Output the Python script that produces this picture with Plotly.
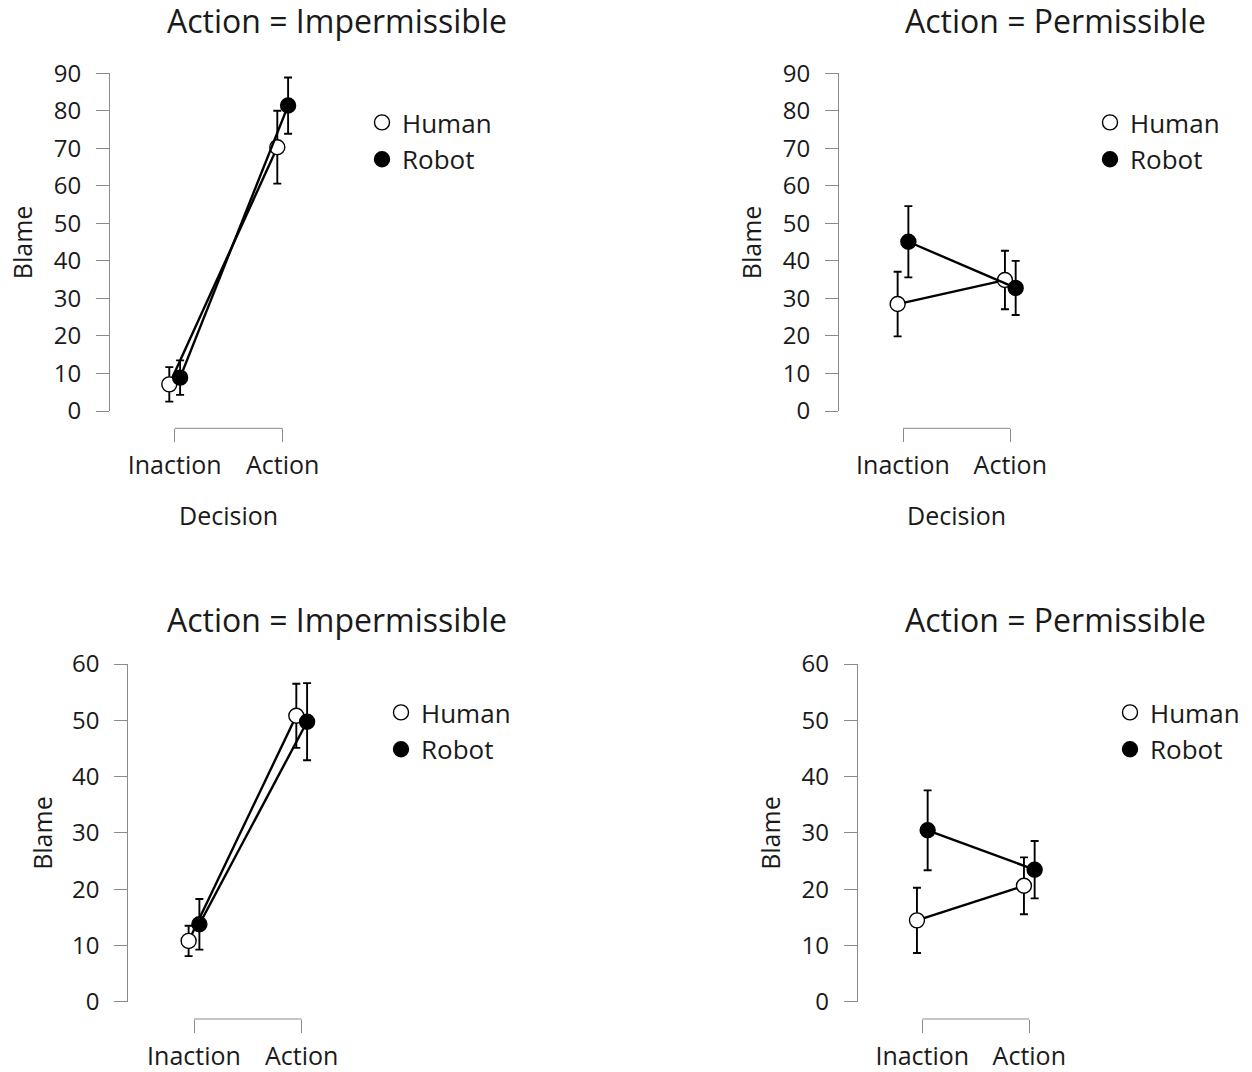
import plotly.graph_objects as go

W, H = 1252, 1072

decisions = ["Inaction", "Action"]
agents = ["Human", "Robot"]

# Panel values (Blame means and error half-widths)
tl_human = [7.1, 70.3]
tl_human_err = [4.6, 9.7]
tl_robot = [8.9, 81.4]
tl_robot_err = [4.6, 7.5]

tr_human = [28.5, 34.9]
tr_human_err = [8.6, 7.8]
tr_robot = [45.1, 32.8]
tr_robot_err = [9.5, 7.2]

bl_human = [10.8, 50.8]
bl_human_err = [2.7, 5.7]
bl_robot = [13.75, 49.75]
bl_robot_err = [4.5, 6.85]

br_human = [14.45, 20.6]
br_human_err = [5.8, 5.05]
br_robot = [30.45, 23.45]
br_robot_err = [7.1, 5.1]

titles = ["Action = Impermissible", "Action = Permissible",
          "Action = Impermissible", "Action = Permissible"]

FONT = "'Open Sans', 'Noto Sans', sans-serif"
TXT = "#1a1a1a"
AXC = "#8a8a8a"
DODGE = 0.05


def fx(p):
    return p / W


def fy(p):
    return 1 - p / H


panels = [
    dict(h=tl_human, he=tl_human_err, r=tl_robot, re=tl_robot_err, ymax=90,
         ax=110, t0=174.7, t1=282.7, ytop=73.3, ybot=411, bracket=428.3,
         tx=337, ty=20, lx=362, ly=99, bx=22, decision=True),
    dict(h=tr_human, he=tr_human_err, r=tr_robot, re=tr_robot_err, ymax=90,
         ax=839, t0=903, t1=1010.3, ytop=73.3, ybot=411, bracket=428.3,
         tx=1055, ty=20, lx=1090, ly=99, bx=751, decision=True),
    dict(h=bl_human, he=bl_human_err, r=bl_robot, re=bl_robot_err, ymax=60,
         ax=128.3, t0=194, t1=301.7, ytop=664, ybot=1001.7, bracket=1019,
         tx=337, ty=619, lx=381, ly=689, bx=42, decision=False),
    dict(h=br_human, he=br_human_err, r=br_robot, re=br_robot_err, ymax=60,
         ax=857.7, t0=922.3, t1=1029.3, ytop=664, ybot=1001.7, bracket=1019,
         tx=1055, ty=619, lx=1110, ly=689, bx=770, decision=False),
]

fig = go.Figure()
annotations = []
shapes = []
xpos = [0, 1]

for i, p in enumerate(panels):
    n = i + 1
    xs = "" if n == 1 else str(n)
    unit = p["t1"] - p["t0"]
    right = p["t1"] + 45
    xr = [(p["ax"] - p["t0"]) / unit, (right - p["t0"]) / unit]
    leg = "legend" if n == 1 else f"legend{n}"

    for name, vals, errs, fill, off in [
        ("Human", p["h"], p["he"], "white", -DODGE),
        ("Robot", p["r"], p["re"], "black", DODGE),
    ]:
        xv = [v + off for v in xpos]
        fig.add_trace(go.Scatter(
            x=xv, y=vals, mode="lines", showlegend=False, hoverinfo="skip",
            line=dict(color="black", width=2.4),
            xaxis="x" + xs, yaxis="y" + xs, cliponaxis=False,
        ))
        fig.add_trace(go.Scatter(
            x=xv, y=vals, name=name, mode="markers",
            marker=dict(size=15, color=fill, line=dict(color="black", width=1.4)),
            error_y=dict(type="data", array=errs, visible=True,
                         color="black", thickness=1.9, width=4),
            xaxis="x" + xs, yaxis="y" + xs, legend=leg,
            cliponaxis=False,
        ))

    fig.update_layout(**{
        "xaxis" + xs: dict(
            domain=[fx(p["ax"]), fx(right)], range=xr,
            anchor="free", position=fy(p["bracket"]),
            showline=False, showgrid=False, zeroline=False, automargin=False,
            tickvals=xpos, ticktext=decisions,
            ticks="outside", ticklen=13, tickwidth=1, tickcolor=AXC,
            tickfont=dict(family=FONT, size=25, color=TXT),
            ticklabelstandoff=2,
        ),
        "yaxis" + xs: dict(
            domain=[fy(p["ybot"]), fy(p["ytop"])], range=[0, p["ymax"]],
            anchor="x" + xs, automargin=False,
            showline=True, linecolor=AXC, linewidth=1,
            showgrid=False, zeroline=False,
            tickvals=list(range(0, p["ymax"] + 1, 10)),
            ticks="outside", ticklen=13, tickwidth=1, tickcolor=AXC,
            tickfont=dict(family=FONT, size=24, color=TXT),
            ticklabelstandoff=10,
        ),
        leg: dict(
            x=fx(p["lx"]), y=fy(p["ly"]), xanchor="left", yanchor="top",
            font=dict(family=FONT, size=26, color=TXT),
            bgcolor="rgba(0,0,0,0)", borderwidth=0,
            tracegroupgap=0, itemwidth=30,
        ),
    })

    shapes.append(dict(type="line", xref="x" + xs, yref="paper",
                       x0=0, x1=1, y0=fy(p["bracket"]), y1=fy(p["bracket"]),
                       line=dict(color=AXC, width=1)))

    annotations.append(dict(text=titles[i], x=fx(p["tx"]), y=fy(p["ty"]),
                            xref="paper", yref="paper", showarrow=False,
                            xanchor="center", yanchor="middle",
                            font=dict(family=FONT, size=32, color=TXT)))
    annotations.append(dict(text="Blame", x=fx(p["bx"]),
                            y=fy((p["ytop"] + p["ybot"]) / 2),
                            xref="paper", yref="paper", showarrow=False,
                            textangle=-90, xanchor="center", yanchor="middle",
                            font=dict(family=FONT, size=25, color=TXT)))
    if p["decision"]:
        annotations.append(dict(text="Decision", x=fx((p["t0"] + p["t1"]) / 2),
                                y=fy(515), xref="paper", yref="paper",
                                showarrow=False, xanchor="center", yanchor="middle",
                                font=dict(family=FONT, size=25, color=TXT)))

fig.update_layout(
    width=W, height=H,
    margin=dict(l=0, r=0, t=0, b=0, autoexpand=False),
    paper_bgcolor="white", plot_bgcolor="white",
    showlegend=True,
    annotations=annotations, shapes=shapes,
    font=dict(family=FONT, color=TXT),
)

fig.write_html("out.html")
